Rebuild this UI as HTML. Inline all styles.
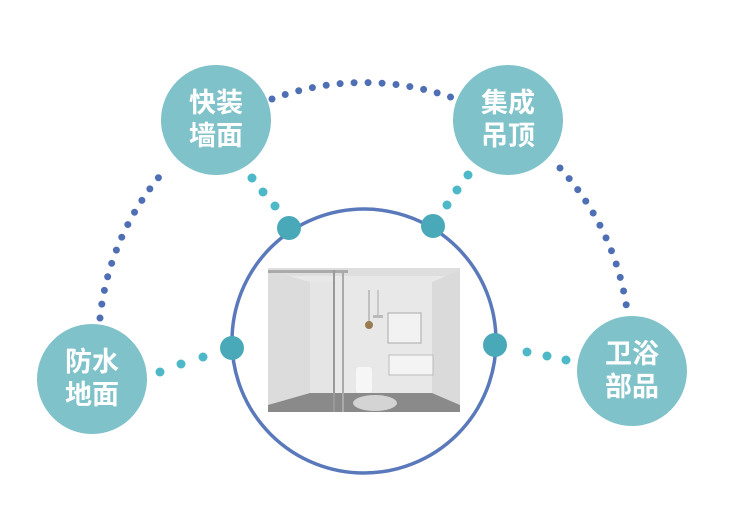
<!DOCTYPE html>
<html><head><meta charset="utf-8"><style>
html,body{margin:0;padding:0;background:#fff;width:743px;height:518px;overflow:hidden}
</style></head><body>
<svg width="743" height="518" viewBox="0 0 743 518" xmlns="http://www.w3.org/2000/svg">
<g fill="none" stroke="#4f6fb5" stroke-width="7" stroke-linecap="round" stroke-dasharray="0 14">
<path d="M100 318 A266 266 0 0 1 165 170"/>
<path d="M272 99 A266 266 0 0 1 456 99"/>
<path d="M560 168 A266 266 0 0 1 628 318"/>
</g>
<circle cx="364" cy="341" r="132" fill="none" stroke="#5a79bb" stroke-width="3.5"/>
<g fill="#4db8c8">
<circle cx="252" cy="178" r="4.5"/><circle cx="263" cy="192" r="4.5"/><circle cx="275" cy="206" r="4.5"/>
<circle cx="468" cy="175" r="4.5"/><circle cx="457" cy="190" r="4.5"/><circle cx="447" cy="205" r="4.5"/>
<circle cx="160" cy="372" r="4.5"/><circle cx="181" cy="364" r="4.5"/><circle cx="203" cy="357" r="4.5"/>
<circle cx="527" cy="352" r="4.5"/><circle cx="547" cy="356" r="4.5"/><circle cx="566" cy="360" r="4.5"/>
</g>
<g fill="#4aa9b9">
<circle cx="289" cy="228" r="12"/><circle cx="433" cy="226" r="12"/>
<circle cx="232" cy="348" r="12"/><circle cx="495" cy="345" r="12"/>
</g>
<g fill="#80c2c9">
<circle cx="216" cy="120" r="55"/><circle cx="508" cy="120" r="55"/>
<circle cx="92" cy="379" r="55"/><circle cx="632" cy="371" r="55"/>
</g>
<g fill="#fff" font-family="'Liberation Sans','Noto Sans CJK SC',sans-serif" font-weight="bold" font-size="27" text-anchor="middle">
<text x="216" y="112">快装</text><text x="216" y="145">墙面</text>
<text x="508" y="112">集成</text><text x="508" y="145">吊顶</text>
<text x="92" y="371">防水</text><text x="92" y="404">地面</text>
<text x="632" y="363">卫浴</text><text x="632" y="396">部品</text>
</g>
<rect x="268" y="268" width="192" height="144" fill="#e8e8e8"/>
<rect x="268" y="268" width="192" height="8" fill="#dedede"/>
<polygon points="268,270 310,282 310,393 268,405" fill="#dcdcdc"/>
<polygon points="460,270 432,282 432,393 460,405" fill="#dadada"/>
<polygon points="268,405 310,393 432,393 460,405 460,412 268,412" fill="#8a8a8a"/>
<rect x="268" y="270" width="80" height="3" fill="#aaa"/>
<rect x="333" y="270" width="2" height="142" fill="#999"/>
<rect x="342" y="270" width="2" height="142" fill="#aaa"/>
<rect x="310" y="282" width="23" height="111" fill="#e2e2e2" opacity="0.6"/>
<rect x="388" y="313" width="33" height="30" fill="#f2f2f2" stroke="#aaa"/>
<rect x="389" y="355" width="44" height="20" fill="#f4f4f4" stroke="#bbb"/>
<rect x="356" y="367" width="16" height="26" rx="3" fill="#f6f6f6"/>
<ellipse cx="375" cy="403" rx="22" ry="8" fill="#d4d4d4"/>
<line x1="369" y1="290" x2="369" y2="322" stroke="#999"/>
<circle cx="369" cy="325" r="4" fill="#9a7a50"/>
<line x1="378" y1="290" x2="378" y2="315" stroke="#aaa"/>
<rect x="373" y="315" width="10" height="3" fill="#bbb"/>
</svg>
</body></html>
